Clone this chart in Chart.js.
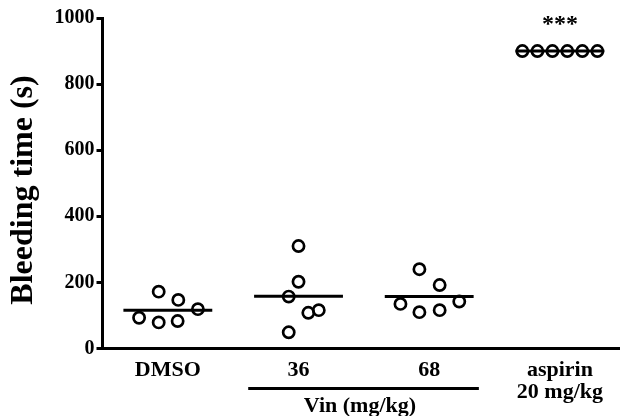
<!DOCTYPE html>
<html>
<head>
<meta charset="utf-8">
<script src="https://cdn.jsdelivr.net/npm/chart.js@4"></script>
<style>
  html, body { margin: 0; padding: 0; background: #fff; }
  #chart { display: block; }
</style>
</head>
<body>
<canvas id="chart" width="620" height="416"></canvas>
<script>
  // groups along the x axis
  const groupLabels = ['DMSO', '36', '68', ['aspirin', '20 mg/kg']];

  // bleeding time per animal (s)
  const dmsoValues = [93, 79, 83, 172, 147, 119];
  const vin36Values = [310, 202, 157, 108, 116, 49];
  const vin68Values = [240, 192, 135, 110, 116, 142];
  const aspirinValues = [900, 900, 900, 900, 900, 900];

  // horizontal scatter of each animal inside its group (category units)
  const dmsoJitter = [-0.22, -0.07, 0.075, -0.07, 0.08, 0.23];
  const vin36Jitter = [0, 0, -0.075, 0.075, 0.155, -0.075];
  const vin68Jitter = [-0.075, 0.08, -0.22, -0.075, 0.08, 0.23];
  const aspirinJitter = [-0.287, -0.172, -0.057, 0.057, 0.172, 0.287];

  // group mean bars
  const groupMeans = [116, 158, 157, 900];

  const yTicks = [0, 200, 400, 600, 800, 1000];

  const FONT = '"Liberation Serif", "Times New Roman", serif';
  const groups = [
    [dmsoValues, dmsoJitter],
    [vin36Values, vin36Jitter],
    [vin68Values, vin68Jitter],
    [aspirinValues, aspirinJitter]
  ];

  const pointSets = groups.map(([values, jitter], idx) => ({
    type: 'scatter',
    data: values.map((v, i) => ({ x: idx + 1 + jitter[i], y: v })),
    pointStyle: 'circle',
    pointRadius: 5.6,
    pointBorderWidth: 2.7,
    borderColor: '#000',
    backgroundColor: 'rgba(255,255,255,0)',
    order: 2
  }));

  const meanSets = groupMeans.map((m, idx) => ({
    type: 'line',
    data: [{ x: idx + 1 - 0.34, y: m }, { x: idx + 1 + 0.34, y: m }],
    borderColor: '#000',
    borderWidth: 3,
    pointRadius: 0,
    fill: false,
    order: 1
  }));

  const annotations = {
    id: 'annotations',
    afterDraw(chart) {
      const { ctx, scales: { x, y }, chartArea } = chart;
      ctx.save();
      ctx.fillStyle = '#000';
      ctx.strokeStyle = '#000';

      // y axis title
      ctx.save();
      ctx.translate(24, 190);
      ctx.rotate(-Math.PI / 2);
      ctx.font = 'bold 32px ' + FONT;
      ctx.textAlign = 'center';
      ctx.textBaseline = 'middle';
      ctx.fillText('Bleeding time (s)', 0, 0);
      ctx.restore();

      // significance mark over aspirin
      ctx.font = 'bold 24px ' + FONT;
      ctx.textAlign = 'center';
      ctx.textBaseline = 'middle';
      ctx.fillText('***', x.getPixelForValue(4), y.getPixelForValue(groupMeans[3]) - 26);

      // bracket under the Vin doses
      const by = chartArea.bottom + 40;
      ctx.lineWidth = 3;
      ctx.beginPath();
      ctx.moveTo(x.getPixelForValue(2 - 0.385), by);
      ctx.lineTo(x.getPixelForValue(3 + 0.38), by);
      ctx.stroke();

      ctx.font = 'bold 22px ' + FONT;
      ctx.fillText('Vin (mg/kg)', x.getPixelForValue(2.47), by + 18);
      ctx.restore();
    }
  };

  new Chart(document.getElementById('chart'), {
    data: { datasets: [...meanSets, ...pointSets] },
    options: {
      responsive: false,
      animation: false,
      devicePixelRatio: 1,
      layout: {
        autoPadding: false,
        padding: { top: 18, right: 0, bottom: 0, left: 0 }
      },
      plugins: {
        legend: { display: false },
        tooltip: { enabled: false }
      },
      scales: {
        x: {
          type: 'linear',
          min: 0.5,
          max: 4.46,
          afterFit: s => {
            s.height = 67.5;
            s.paddingLeft = 0;
            s.paddingRight = 0;
          },
          afterBuildTicks: s => { s.ticks = groupLabels.map((_, i) => ({ value: i + 1 })); },
          grid: { display: false, drawTicks: false },
          border: { display: true, color: '#000', width: 3 },
          ticks: {
            autoSkip: false,
            maxRotation: 0,
            padding: 11,
            color: '#000',
            font: { family: FONT, size: 22, weight: 'bold', lineHeight: 1 },
            callback: v => groupLabels[Math.round(v) - 1]
          }
        },
        y: {
          min: 0,
          max: 1000,
          afterFit: s => { s.width = 102.5; },
          afterBuildTicks: s => { s.ticks = yTicks.map(v => ({ value: v })); },
          grid: {
            drawOnChartArea: false,
            drawTicks: true,
            tickLength: 6,
            tickWidth: 3,
            tickColor: '#000'
          },
          border: { display: true, color: '#000', width: 3 },
          ticks: {
            padding: 2,
            color: '#000',
            font: { family: FONT, size: 20, weight: 'bold' },
            callback: v => String(v)
          }
        }
      }
    },
    plugins: [annotations]
  });
</script>
</body>
</html>
